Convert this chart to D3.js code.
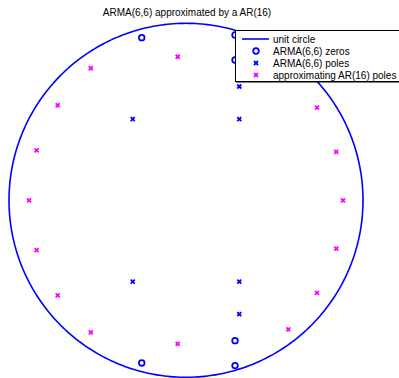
<!DOCTYPE html>
<html>
<head>
<meta charset="utf-8">
<script src="https://cdn.jsdelivr.net/npm/d3@7"></script>
<style>
  html, body { margin: 0; padding: 0; background: #fff; }
  svg { display: block; }
  text { font-family: "Liberation Sans", Arial, sans-serif; }
</style>
</head>
<body>
<svg id="chart" width="399" height="378"></svg>
<script>
// ARMA(6,6) zeros (upper half; conjugates added below)
const zerosRe = [-0.250, 0.277, 0.277];
const zerosIm = [0.919, 0.793, 0.934];
// ARMA(6,6) poles (upper half)
const polesRe = [-0.301, 0.301, 0.301];
const polesIm = [0.459, 0.459, 0.643];
// approximating AR(16) poles: complex pairs (upper half) ...
const arRe = [-0.538, -0.725, -0.844, -0.047, 0.740, 0.849, 0.578];
const arIm = [0.746, 0.537, 0.282, 0.811, 0.523, 0.273, 0.729];
// ... and the two real poles
const arReal = [-0.887, 0.887];

const titleText = "ARMA(6,6) approximated by a AR(16)";
const legendLabels = ["unit circle", "ARMA(6,6) zeros", "ARMA(6,6) poles", "approximating AR(16) poles"];

const BLUE = "#0000ff", MAGENTA = "#ff00ff";

function withConj(re, im) {
  const out = [];
  re.forEach((r, i) => { out.push([r, im[i]]); out.push([r, -im[i]]); });
  return out;
}
const zeros = withConj(zerosRe, zerosIm);
const poles = withConj(polesRe, polesIm);
const arPoles = withConj(arRe, arIm).concat(arReal.map(r => [r, 0]));

const svg = d3.select("#chart");
const x = d3.scaleLinear().domain([-1, 1]).range([9, 363]);
const y = d3.scaleLinear().domain([-1, 1]).range([377.3, 23.3]);

// title
svg.append("text")
  .attr("x", 187).attr("y", 16)
  .attr("text-anchor", "middle")
  .attr("font-size", 10)
  .text(titleText);

// unit circle
const angles = d3.range(0, 361, 1).map(d => d * Math.PI / 180);
svg.append("path")
  .datum(angles)
  .attr("d", d3.line().x(t => x(Math.cos(t))).y(t => y(Math.sin(t))))
  .attr("fill", "none")
  .attr("stroke", BLUE)
  .attr("stroke-width", 1.6);

function crossPath(s) {
  return `M${-s},${-s}L${s},${s}M${-s},${s}L${s},${-s}`;
}

// zeros
svg.append("g").selectAll("circle").data(zeros).join("circle")
  .attr("cx", d => x(d[0])).attr("cy", d => y(d[1]))
  .attr("r", 2.8)
  .attr("fill", "none").attr("stroke", BLUE).attr("stroke-width", 1.8);

// ARMA poles
svg.append("g").selectAll("path").data(poles).join("path")
  .attr("transform", d => `translate(${x(d[0])},${y(d[1])})`)
  .attr("d", crossPath(2))
  .attr("stroke", BLUE).attr("stroke-width", 1.8);

// AR(16) poles
svg.append("g").selectAll("path").data(arPoles).join("path")
  .attr("transform", d => `translate(${x(d[0])},${y(d[1])})`)
  .attr("d", crossPath(2))
  .attr("stroke", MAGENTA).attr("stroke-width", 1.8);

// legend
const lg = svg.append("g");
lg.append("rect")
  .attr("x", 235.5).attr("y", 30.5)
  .attr("width", 180).attr("height", 51)
  .attr("fill", "#fff").attr("stroke", "#000").attr("stroke-width", 1);
lg.append("line")
  .attr("x1", 236).attr("x2", 416).attr("y1", 82).attr("y2", 82)
  .attr("stroke", "#000").attr("stroke-width", 1);
const rowY = [39, 51, 63, 75];
lg.append("line")
  .attr("x1", 242).attr("x2", 269).attr("y1", rowY[0]).attr("y2", rowY[0])
  .attr("stroke", BLUE).attr("stroke-width", 1.6);
lg.append("circle")
  .attr("cx", 256).attr("cy", rowY[1]).attr("r", 2.8)
  .attr("fill", "none").attr("stroke", BLUE).attr("stroke-width", 1.8);
lg.append("path")
  .attr("transform", `translate(256,${rowY[2]})`)
  .attr("d", crossPath(2)).attr("stroke", BLUE).attr("stroke-width", 1.8);
lg.append("path")
  .attr("transform", `translate(256,${rowY[3]})`)
  .attr("d", crossPath(2)).attr("stroke", MAGENTA).attr("stroke-width", 1.8);
lg.selectAll("text.lab").data(legendLabels).join("text")
  .attr("class", "lab")
  .attr("x", 273).attr("y", (d, i) => rowY[i] + 3.5)
  .attr("font-size", 10)
  .text(d => d);
</script>
</body>
</html>
